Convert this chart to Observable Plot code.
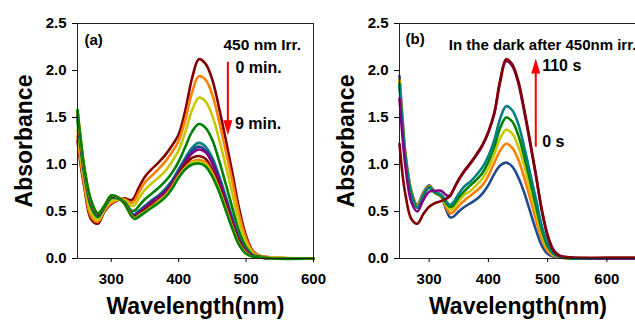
<!DOCTYPE html>
<html><head><meta charset="utf-8">
<script src="https://cdn.jsdelivr.net/npm/d3@7"></script>
<script src="https://cdn.jsdelivr.net/npm/@observablehq/plot@0.6"></script>
<style>
html,body{margin:0;padding:0;background:#fff;overflow:hidden;}
#wrap{position:relative;width:635px;height:320px;overflow:hidden;background:#fff;}
#pa,#pb{position:absolute;top:0;}
#pa{left:0;width:318px;}
#pb{left:322px;width:319px;}
</style></head><body>
<div id="wrap"><div id="pa"></div><div id="pb"></div></div>
<script>
// ---- Data ----
const wlA = [250,255,260,270,280,290,300,310,320,330,335,340,350,360,370,380,390,400,410,420,430,440,450,460,470,480,490,500,510,520,540,600];
const wlB = [250,255,260,270,280,290,300,310,320,330,335,340,350,360,370,380,390,400,410,420,430,440,450,460,470,480,490,500,510,520,540,600,650];

// panel (a): 450 nm irradiation, 0 min (top) ... 9 min (bottom)
const a0  = [1.25,0.98,0.76,0.42,0.37,0.50,0.58,0.62,0.64,0.62,0.66,0.74,0.87,0.95,1.02,1.10,1.20,1.32,1.58,1.92,2.12,2.07,1.90,1.60,1.26,0.90,0.52,0.24,0.08,0.03,0.01,0];
const a1  = [1.30,1.02,0.79,0.45,0.39,0.51,0.59,0.62,0.63,0.59,0.62,0.69,0.81,0.88,0.95,1.03,1.13,1.25,1.48,1.77,1.94,1.90,1.74,1.46,1.14,0.81,0.46,0.21,0.07,0.03,0.01,0];
const a2  = [1.37,1.08,0.84,0.49,0.41,0.52,0.61,0.63,0.62,0.56,0.57,0.63,0.73,0.80,0.86,0.93,1.03,1.15,1.35,1.58,1.71,1.67,1.52,1.27,0.98,0.68,0.38,0.17,0.06,0.02,0.01,0];
const a3  = [1.46,1.15,0.89,0.55,0.44,0.54,0.64,0.64,0.60,0.51,0.51,0.55,0.63,0.69,0.75,0.82,0.91,1.03,1.19,1.35,1.43,1.39,1.26,1.04,0.79,0.53,0.28,0.12,0.04,0.02,0,0];
const a4  = [1.52,1.20,0.93,0.58,0.46,0.55,0.65,0.64,0.59,0.48,0.47,0.50,0.56,0.62,0.67,0.74,0.83,0.95,1.07,1.18,1.23,1.19,1.07,0.88,0.66,0.43,0.21,0.09,0.03,0.01,0,0];
const a5  = [1.53,1.21,0.94,0.59,0.46,0.55,0.66,0.64,0.59,0.48,0.46,0.49,0.55,0.61,0.66,0.72,0.81,0.93,1.05,1.15,1.19,1.15,1.04,0.85,0.63,0.40,0.20,0.08,0.03,0.01,0,0];
const a6  = [1.54,1.21,0.94,0.59,0.47,0.55,0.66,0.65,0.59,0.47,0.45,0.48,0.54,0.60,0.65,0.71,0.80,0.92,1.03,1.12,1.16,1.13,1.01,0.83,0.61,0.39,0.19,0.08,0.03,0.01,0,0];
const a7  = [1.56,1.23,0.96,0.61,0.47,0.56,0.66,0.65,0.58,0.46,0.44,0.46,0.52,0.57,0.62,0.68,0.77,0.89,1.00,1.07,1.09,1.06,0.94,0.77,0.56,0.35,0.17,0.06,0.02,0.01,0,0];
const a8  = [1.57,1.24,0.96,0.61,0.48,0.56,0.67,0.65,0.58,0.46,0.43,0.45,0.50,0.55,0.61,0.67,0.76,0.88,0.97,1.03,1.05,1.02,0.91,0.74,0.54,0.33,0.15,0.06,0.02,0.01,0,0];
const a9  = [1.57,1.25,0.97,0.62,0.48,0.56,0.67,0.65,0.58,0.45,0.42,0.45,0.50,0.55,0.60,0.66,0.75,0.87,0.96,1.02,1.03,1.00,0.89,0.73,0.52,0.32,0.15,0.05,0.02,0.01,0,0];
const a10 = [1.58,1.25,0.97,0.62,0.48,0.56,0.67,0.65,0.58,0.45,0.42,0.44,0.49,0.54,0.59,0.65,0.74,0.86,0.95,1.00,1.01,0.98,0.87,0.71,0.51,0.31,0.14,0.05,0.02,0.01,0,0];

// panel (b): in the dark after irradiation, 0 s (bottom) ... 110 s (top)
const b0 = [1.94,1.50,1.12,0.72,0.57,0.70,0.78,0.70,0.66,0.50,0.44,0.44,0.50,0.55,0.59,0.63,0.69,0.78,0.90,0.99,1.02,0.98,0.87,0.71,0.51,0.31,0.14,0.05,0.02,0.01,0,0,0];
const b1 = [1.90,1.46,1.10,0.71,0.56,0.69,0.77,0.70,0.66,0.53,0.48,0.49,0.56,0.62,0.67,0.72,0.78,0.88,1.02,1.15,1.22,1.18,1.06,0.87,0.65,0.42,0.21,0.08,0.03,0.01,0,0,0];
const b2 = [1.88,1.45,1.09,0.70,0.55,0.68,0.76,0.70,0.67,0.56,0.52,0.53,0.61,0.68,0.72,0.78,0.85,0.96,1.11,1.28,1.37,1.33,1.20,1.00,0.75,0.50,0.26,0.11,0.04,0.02,0,0,0];
const b3 = [1.86,1.43,1.08,0.69,0.54,0.67,0.76,0.70,0.67,0.58,0.55,0.56,0.65,0.72,0.78,0.84,0.91,1.03,1.19,1.39,1.50,1.46,1.32,1.10,0.84,0.57,0.31,0.13,0.05,0.02,0,0,0];
const b4 = [1.84,1.42,1.07,0.68,0.54,0.67,0.75,0.71,0.68,0.60,0.57,0.59,0.69,0.77,0.82,0.89,0.97,1.09,1.26,1.49,1.62,1.58,1.44,1.20,0.92,0.64,0.35,0.16,0.05,0.02,0,0,0];
const b5 = [1.70,1.30,0.98,0.60,0.50,0.62,0.71,0.72,0.72,0.67,0.67,0.72,0.84,0.93,1.01,1.10,1.20,1.34,1.54,1.88,2.10,2.05,1.88,1.58,1.24,0.89,0.52,0.25,0.09,0.03,0.01,0,0];
const b6 = [1.22,0.90,0.68,0.42,0.37,0.47,0.55,0.59,0.61,0.64,0.66,0.72,0.84,0.94,1.02,1.11,1.21,1.35,1.55,1.90,2.12,2.07,1.90,1.60,1.26,0.90,0.52,0.24,0.08,0.03,0.01,0.01,0.01];

const colorsA = ["#800000","#ff8000","#c8c800","#008000","#008080","#1f4a8c","#800080","#800000","#ff8000","#c8c800","#008000"];
const colorsB = ["#1f4a8c","#ff8000","#c8c800","#008000","#008080","#800080","#800000"];
const xTicks = [300,400,500,600];
const yTicks = [0,0.5,1,1.5,2,2.5];

// custom filled arrowheads (tip at origin)
const headDown = {draw(ctx){ctx.moveTo(0,0);ctx.lineTo(-4.5,-15);ctx.lineTo(4.5,-15);ctx.closePath();}};
const headUp   = {draw(ctx){ctx.moveTo(0,0);ctx.lineTo(-4.5,15);ctx.lineTo(4.5,15);ctx.closePath();}};

const FONT = "'Liberation Sans', Arial, Helvetica, sans-serif";

function panel({wl, series, colors, domain, width, marginRight, extra, transparent}) {
  const lines = series.map((s, i) => Plot.line(wl.map((w, j) => ({wl: w, A: s[j]})),
    {x: "wl", y: "A", stroke: colors[i], strokeWidth: 2.6, curve: "catmull-rom"}));
  return Plot.plot({
    width, height: 320,
    marginLeft: 77, marginRight, marginTop: 23, marginBottom: 62,
    x: {domain},
    y: {domain: [0, 2.5]},
    style: {fontFamily: FONT, fontWeight: "bold", fontSize: "15px", color: "#000",
            background: transparent ? "transparent" : "white", overflow: "visible", maxWidth: "none"},
    marks: [
      ...lines,
      Plot.frame({stroke: "#222", strokeWidth: 1}),
      Plot.axisX({ticks: xTicks, tickFormat: d => String(d), tickSize: 4, tickPadding: 11,
                  fontSize: 15, fontWeight: "bold", label: null}),
      Plot.axisY({ticks: yTicks, tickFormat: d3.format(".1f"), tickSize: 5, tickPadding: 6,
                  fontSize: 15, fontWeight: "bold", label: null}),
      Plot.text(["Absorbance"], {frameAnchor: "left", dx: -53, rotate: -90, fontSize: 23,
                  fontWeight: "bold", textAnchor: "middle", lineAnchor: "middle"}),
      Plot.text(["Wavelength(nm)"], {frameAnchor: "bottom", dy: 39, lineAnchor: "top",
                  fontSize: 23, fontWeight: "bold"}),
      ...extra
    ]
  });
}

function note(t, dx, dy, size) {
  return Plot.text([t], {frameAnchor: "top-left", dx, dy, textAnchor: "start", lineAnchor: "middle",
                         fontSize: size, fontWeight: "bold", fill: "#000"});
}

const plotA = panel({
  wl: wlA, series: [a0,a1,a2,a3,a4,a5,a6,a7,a8,a9,a10], colors: colorsA,
  domain: [250, 600], width: 318, marginRight: 5,
  extra: [
    note("(a)", 7, 17, 15),
    note("450 nm Irr.", 146, 21.5, 15.5),
    note("0 min.", 158, 44.6, 16),
    note("9 min.", 157.5, 100.3, 16),
    Plot.ruleX([473], {y1: 2.088, y2: 1.45, stroke: "#ff0000", strokeWidth: 2}),
    Plot.dot([{x: 473, y: 1.31}], {x: "x", y: "y", symbol: headDown, fill: "#ff0000", r: 5})
  ]
});

const plotB = panel({
  wl: wlB, series: [b0,b1,b2,b3,b4,b5,b6], colors: colorsB,
  domain: [250, 650], width: 319, marginRight: 5, transparent: true,
  extra: [
    note("(b)", 6, 15.6, 15),
    note("In the dark after 450nm irr.", 49.3, 21.6, 15),
    note("110 s", 142.7, 42.8, 16),
    note("0 s", 142.7, 118, 16),
    Plot.ruleX([480], {y1: 1.184, y2: 1.99, stroke: "#ff0000", strokeWidth: 2}),
    Plot.dot([{x: 480, y: 2.128}], {x: "x", y: "y", symbol: headUp, fill: "#ff0000", r: 5})
  ]
});

document.getElementById("pa").appendChild(plotA);
document.getElementById("pb").appendChild(plotB);
</script>
</body></html>
